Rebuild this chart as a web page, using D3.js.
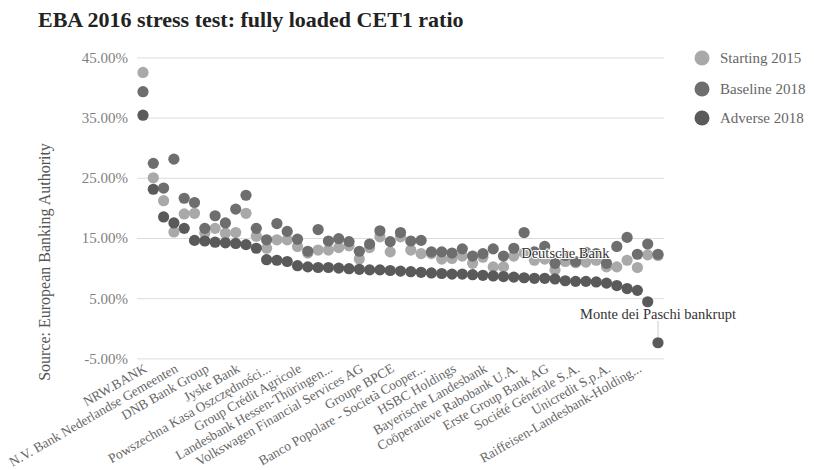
<!DOCTYPE html>
<html>
<head>
<meta charset="utf-8">
<script src="https://cdn.jsdelivr.net/npm/d3@7"></script>
<style>
  body { margin: 0; background: #fff; }
  text { font-family: "Liberation Serif", "DejaVu Serif", serif; }
</style>
</head>
<body>
<svg id="chart" width="814" height="470"></svg>
<script>
// banks sorted by adverse 2018 ratio, as on the chart
const banks = [
  "NRW.BANK", "Swedbank AB", "Svenska Handelsbanken AB",
  "N.V. Bank Nederlandse Gemeenten", "Skandinaviska Enskilda Banken", "OP Financial Group",
  "DNB Bank Group", "Nykredit Realkredit", "KBC Group NV",
  "Jyske Bank", "Nordea Bank", "OTP Bank",
  "Powszechna Kasa Oszczędności...", "Danske Bank", "Belfius Banque SA",
  "Group Crédit Agricole", "ING Groep N.V.", "DZ Bank AG",
  "Landesbank Hessen-Thüringen...", "La Banque Postale", "ABN AMRO Group N.V.",
  "Volkswagen Financial Services AG", "Groupe Crédit Mutuel", "Intesa Sanpaolo",
  "Groupe BPCE", "Lloyds Banking Group", "Landesbank Baden-Württemberg",
  "Banco Popolare - Società Cooper...", "BNP Paribas", "Criteria Caixa",
  "HSBC Holdings", "Banco Santander S.A.", "BBVA",
  "Bayerische Landesbank", "Norddeutsche Landesbank", "Banco de Sabadell",
  "Coöperatieve Rabobank U.A.", "Unione di Banche Italiane", "BFA Tenedora de Acciones",
  "Erste Group Bank AG", "RBS Group", "Deutsche Bank",
  "Société Générale S.A.", "Commerzbank", "Barclays Plc",
  "Unicredit S.p.A.", "Banco Popular Español", "Bank of Ireland",
  "Raiffeisen-Landesbank-Holding...", "Allied Irish Banks", "Banca Monte dei Paschi di Siena"
];
const starting2015 = [
  42.5, 25.0, 21.2, 16.0, 19.0, 19.1, 15.8, 16.6, 15.8, 15.9,
  19.1, 15.3, 13.3, 14.7, 14.7, 13.6, 12.5, 13.0, 13.0, 13.4,
  13.7, 11.5, 13.4, 15.2, 12.7, 15.2, 13.0, 12.4, 12.4, 11.5,
  11.6, 12.0, 10.8, 11.8, 10.2, 10.2, 12.0, 12.5, 11.3, 11.5,
  9.7, 11.1, 10.9, 11.0, 11.3, 10.2, 10.2, 11.3, 10.1, 12.2, 12.1
];
const baseline2018 = [
  39.3, 27.4, 23.3, 28.1, 21.6, 20.9, 16.6, 18.7, 17.5, 19.8,
  22.1, 16.6, 14.7, 17.4, 16.1, 14.8, 12.8, 16.4, 14.5, 14.9,
  14.4, 12.8, 14.0, 16.2, 14.4, 15.9, 14.5, 14.6, 12.7, 12.7,
  12.5, 13.2, 12.0, 12.4, 13.2, 12.0, 13.3, 15.9, 12.7, 13.6,
  10.8, 12.1, 11.1, 12.6, 12.4, 10.8, 13.6, 15.1, 12.3, 14.0, 12.3
];
const adverse2018 = [
  35.4, 23.1, 18.5, 17.5, 16.6, 14.6, 14.5, 14.3, 14.2, 14.1,
  13.9, 13.3, 11.4, 11.3, 11.1, 10.4, 10.2, 10.1, 10.1, 10.0,
  9.9, 9.8, 9.7, 9.7, 9.6, 9.5, 9.4, 9.3, 9.2, 9.1,
  9.0, 9.0, 8.9, 8.8, 8.7, 8.6, 8.5, 8.4, 8.3, 8.3,
  8.2, 7.9, 7.8, 7.8, 7.7, 7.5, 7.1, 6.6, 6.3, 4.4, -2.4
];
const yTicks = [-5, 5, 15, 25, 35, 45];
const seriesNames = ["Starting 2015", "Baseline 2018", "Adverse 2018"];
const seriesColors = ["#a9a9a9", "#6e6e6e", "#5a5a5a"];
const notes = [
  { bank: "Deutsche Bank", series: 1, text: "Deutsche Bank" },
  { bank: "Banca Monte dei Paschi di Siena", series: 2, text: "Monte dei Paschi bankrupt" }
];

const svg = d3.select("#chart");
const series = [starting2015, baseline2018, adverse2018];
const serif = '"Liberation Serif", "DejaVu Serif", serif';

const x = d3.scalePoint().domain(banks).range([143, 658]);
const y = d3.scaleLinear().domain([-5, 45]).range([358.4, 57.4]);
const gridLeft = 137, gridRight = 664;

// title
svg.append("text")
  .attr("x", 38).attr("y", 27)
  .attr("font-size", 22).attr("font-weight", "bold")
  .attr("fill", "#222")
  .text("EBA 2016 stress test: fully loaded CET1 ratio");

// y axis + grid (grid lines are the ticks drawn across the plot)
const yAxis = d3.axisLeft(y)
  .tickValues(yTicks)
  .tickSize(0)
  .tickPadding(9)
  .tickFormat(d => d.toFixed(2) + "%");
const gY = svg.append("g")
  .attr("transform", "translate(" + gridLeft + ",0)")
  .call(yAxis);
gY.attr("font-family", null).style("font-family", serif);
gY.select(".domain").remove();
gY.selectAll(".tick line")
  .attr("x1", 0).attr("x2", gridRight - gridLeft)
  .attr("stroke", "#dcdcdc");
gY.selectAll(".tick text")
  .style("font-family", serif)
  .attr("font-size", 15).attr("fill", "#808080");

// y axis title
svg.append("text")
  .attr("transform", "translate(50,262) rotate(-90)")
  .attr("text-anchor", "middle")
  .attr("font-size", 16).attr("fill", "#555")
  .text("Source: European Banking Authority");

// x labels, every third bank
const labelled = banks.filter((b, i) => i % 3 === 0);
svg.append("g").selectAll("text")
  .data(labelled)
  .enter().append("text")
  .attr("transform", d => "translate(" + (x(d) + 5) + ",371) rotate(-30)")
  .attr("text-anchor", "end")
  .attr("font-size", 13.5).attr("fill", "#666")
  .text(d => d);

// points
series.forEach((vals, s) => {
  svg.append("g").selectAll("circle")
    .data(vals)
    .enter().append("circle")
    .attr("cx", (d, i) => x(banks[i]))
    .attr("cy", d => y(d))
    .attr("r", 5.6)
    .attr("fill", seriesColors[s]);
});

// annotations
notes.forEach(n => {
  const i = banks.indexOf(n.bank);
  const px = x(n.bank), py = y(series[n.series][i]);
  if (n.series === 2) {
    svg.append("line")
      .attr("x1", px).attr("x2", px)
      .attr("y1", py - 22).attr("y2", py - 6)
      .attr("stroke", "#ccc");
    svg.append("text")
      .attr("x", px).attr("y", py - 24)
      .attr("text-anchor", "middle")
      .attr("font-size", 14.5).attr("fill", "#333")
      .attr("stroke", "#fff").attr("stroke-width", 3).attr("paint-order", "stroke")
      .text(n.text);
  } else {
    svg.append("text")
      .attr("x", px).attr("y", py + 3)
      .attr("text-anchor", "middle")
      .attr("font-size", 14.5).attr("fill", "#333")
      .attr("stroke", "#fff").attr("stroke-width", 2).attr("paint-order", "stroke")
      .text(n.text);
  }
});

// legend
const legend = svg.append("g").selectAll("g")
  .data(seriesNames)
  .enter().append("g")
  .attr("transform", (d, i) => "translate(702," + [58, 89, 118][i] + ")");
legend.append("circle").attr("r", 7.5).attr("fill", (d, i) => seriesColors[i]);
legend.append("text")
  .attr("x", 18).attr("y", 5)
  .attr("font-size", 15).attr("fill", "#666")
  .text(d => d);
</script>
</body>
</html>
